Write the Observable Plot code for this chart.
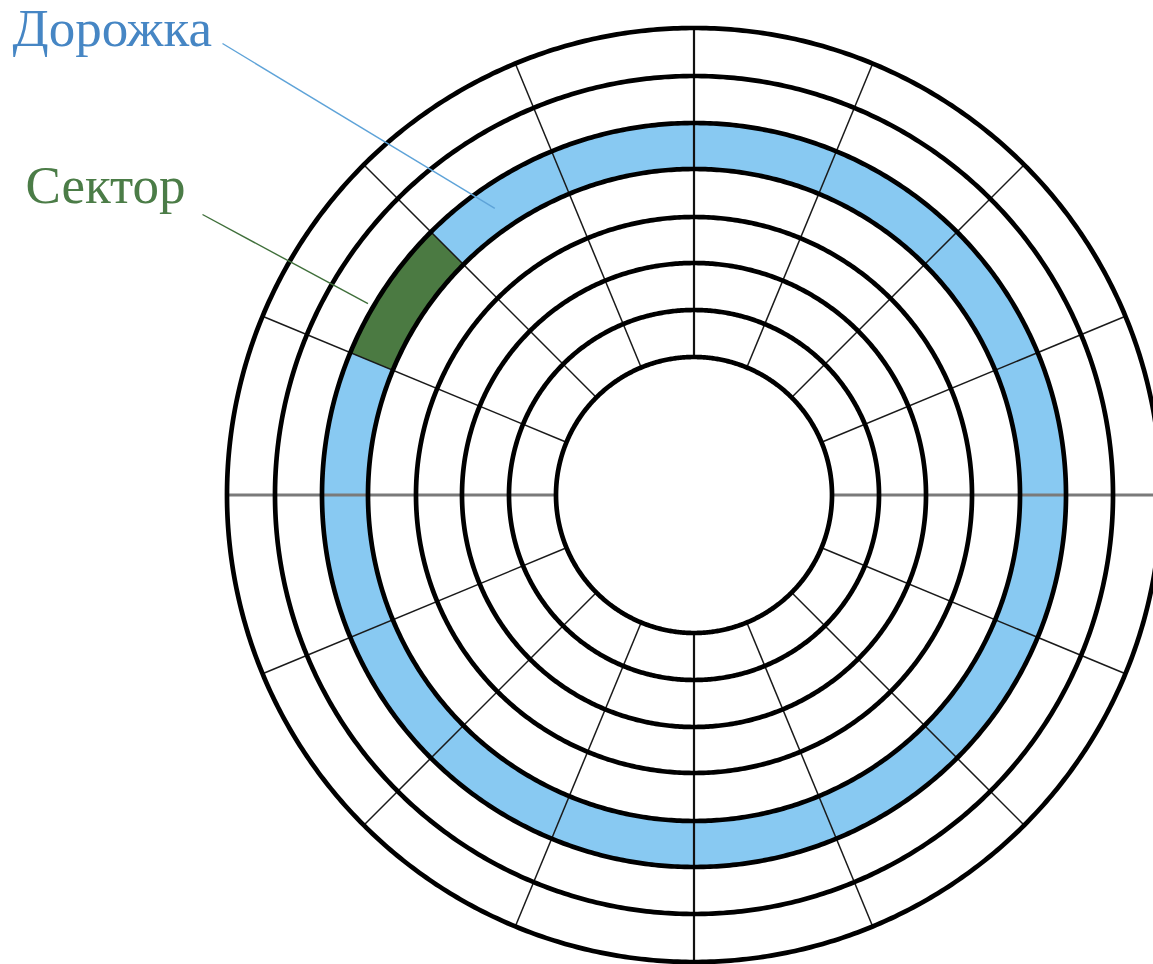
<!DOCTYPE html>
<html><head><meta charset="utf-8">
<script src="https://cdn.jsdelivr.net/npm/d3@7"></script>
<script src="https://cdn.jsdelivr.net/npm/@observablehq/plot@0.6"></script>
<style>html,body{margin:0;padding:0;background:#fff;overflow:hidden}</style>
</head><body><div id="chart"></div>
<script>
// Track boundary circles (radius, px-like units)
const trackRadii = [138, 185, 232, 278, 326, 372, 419, 467];
// Sector boundary angles (degrees, counter-clockwise from east)
const sectorAngles = [0, 22.5, 45, 67.5, 90, 112.5, 135, 157.5, 180, 202.5, 225, 247.5, 270, 292.5, 315, 337.5];
// Highlighted track (between trackRadii[i] and trackRadii[i+1]) and sector (between sectorAngles[j] and sectorAngles[j+1])
const highlightedTrack = [4];
const highlightedSector = [6];
// Labels
const labelNames = ["Дорожка", "Сектор"];

const rad = d => d * Math.PI / 180;
const polar = (r, a) => ({x: r * Math.cos(rad(a)), y: r * Math.sin(rad(a))});
const arc = (r, a0, a1, step) => {
  const pts = [];
  const n = Math.max(2, Math.ceil(Math.abs(a1 - a0) / step));
  for (let i = 0; i <= n; i++) pts.push(polar(r, a0 + (a1 - a0) * i / n));
  return pts;
};

// circles
const circlePts = trackRadii.flatMap(r => arc(r, 0, 360, 0.5).map(p => ({...p, r})));

// highlighted ring
const ti = highlightedTrack[0];
const ringPts = [...arc(trackRadii[ti + 1], 0, 360, 0.5), ...arc(trackRadii[ti], 360, 0, 0.5)];

// highlighted sector
const si = highlightedSector[0];
const secPts = [...arc(trackRadii[ti + 1], sectorAngles[si], sectorAngles[si + 1], 0.25),
                ...arc(trackRadii[ti], sectorAngles[si + 1], sectorAngles[si], 0.25)];

// radial lines
const radials = sectorAngles.map(a => {
  const p0 = polar(trackRadii[0], a), p1 = polar(trackRadii[trackRadii.length - 1], a);
  return {a, x1: p0.x, y1: p0.y, x2: p1.x, y2: p1.y};
});
const horiz = radials.filter(d => d.a % 180 === 0);
const vert = radials.filter(d => d.a % 180 === 90);
const others = radials.filter(d => d.a % 90 !== 0);

// leader targets computed from the diagram geometry
const trackMid = (trackRadii[ti] + trackRadii[ti + 1]) / 2;
const tTrack = polar(trackMid, 124.8);
const tSector = polar(trackRadii[ti + 1] + 6, 149.6);
const leaders = [
  {x1: -471.5, y1: 451.5, x2: tTrack.x, y2: tTrack.y, c: "#5ea3d8"},
  {x1: -491.5, y1: 280.5, x2: tSector.x, y2: tSector.y, c: "#3f6f3a"}
];
const labels = [
  {x: -681.5, y: 449.5, text: labelNames[0], c: "#4686c4"},
  {x: -668.5, y: 292.5, text: labelNames[1], c: "#4b7c47"}
];

const chart = Plot.plot({
  width: 1153,
  height: 964,
  margin: 0,
  x: {domain: [-693.5, 459.5], axis: null},
  y: {domain: [-469.5, 494.5], axis: null},
  style: {background: "#fff"},
  marks: [
    Plot.line(ringPts, {x: "x", y: "y", fill: "#88c9f2", stroke: "none", curve: "linear"}),
    Plot.line(secPts, {x: "x", y: "y", fill: "#4b7a42", stroke: "none", curve: "linear"}),
    Plot.link(others, {x1: "x1", y1: "y1", x2: "x2", y2: "y2", stroke: "#1a1a1a", strokeWidth: 1.5}),
    Plot.link(horiz, {x1: "x1", y1: "y1", x2: "x2", y2: "y2", stroke: "#7a7a7a", strokeWidth: 3}),
    Plot.link(vert, {x1: "x1", y1: "y1", x2: "x2", y2: "y2", stroke: "#111", strokeWidth: 2.2}),
    Plot.line(circlePts, {x: "x", y: "y", z: "r", stroke: "#000", strokeWidth: 4.7, curve: "linear"}),
    Plot.link(leaders, {x1: "x1", y1: "y1", x2: "x2", y2: "y2", stroke: "c", strokeWidth: 1.4}),
    Plot.text(labels, {x: "x", y: "y", text: "text", fill: "c", fontSize: 53, fontFamily: "Liberation Serif", textAnchor: "start", lineAnchor: "bottom"})
  ]
});
document.getElementById("chart").appendChild(chart);
</script>
</body></html>
